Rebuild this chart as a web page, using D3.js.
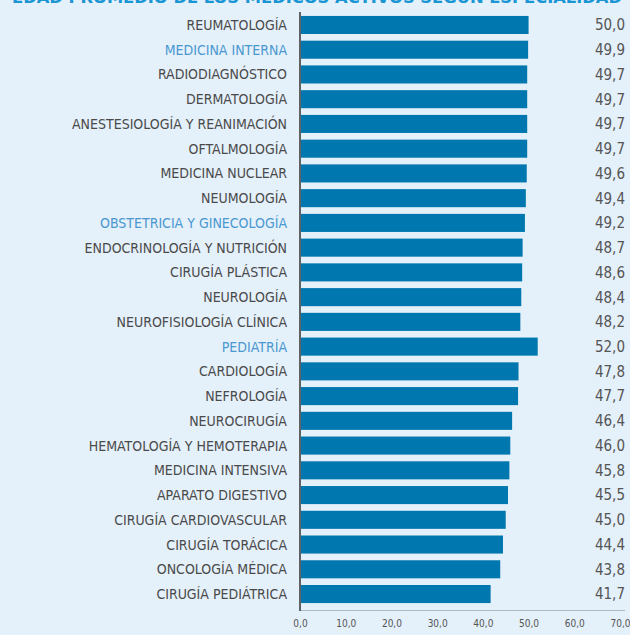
<!DOCTYPE html>
<html>
<head>
<meta charset="utf-8">
<script src="https://cdn.jsdelivr.net/npm/d3@7"></script>
<style>
  html, body { margin: 0; padding: 0; background: #e4f0fa; }
  svg { display: block; }
</style>
</head>
<body>
<svg id="chart" width="630" height="635"></svg>
<script>
// Average age of active physicians by specialty
const especialidades = [
  "REUMATOLOGÍA", "MEDICINA INTERNA", "RADIODIAGNÓSTICO", "DERMATOLOGÍA",
  "ANESTESIOLOGÍA Y REANIMACIÓN", "OFTALMOLOGÍA", "MEDICINA NUCLEAR", "NEUMOLOGÍA",
  "OBSTETRICIA Y GINECOLOGÍA", "ENDOCRINOLOGÍA Y NUTRICIÓN", "CIRUGÍA PLÁSTICA", "NEUROLOGÍA",
  "NEUROFISIOLOGÍA CLÍNICA", "PEDIATRÍA", "CARDIOLOGÍA", "NEFROLOGÍA",
  "NEUROCIRUGÍA", "HEMATOLOGÍA Y HEMOTERAPIA", "MEDICINA INTENSIVA", "APARATO DIGESTIVO",
  "CIRUGÍA CARDIOVASCULAR", "CIRUGÍA TORÁCICA", "ONCOLOGÍA MÉDICA", "CIRUGÍA PEDIÁTRICA"
];
const edadMedia = [
  50.0, 49.9, 49.7, 49.7,
  49.7, 49.7, 49.6, 49.4,
  49.2, 48.7, 48.6, 48.4,
  48.2, 52.0, 47.8, 47.7,
  46.4, 46.0, 45.8, 45.5,
  45.0, 44.4, 43.8, 41.7
];
// Specialties shown with highlighted labels
const destacadas = ["MEDICINA INTERNA", "OBSTETRICIA Y GINECOLOGÍA", "PEDIATRÍA"];
const ticksX = [0, 10, 20, 30, 40, 50, 60, 70];
const titulo = "EDAD PROMEDIO DE LOS MÉDICOS ACTIVOS SEGÚN ESPECIALIDAD";

const data = especialidades.map((e, i) => ({ nombre: e, valor: edadMedia[i] }));
const fmt = v => d3.format(".1f")(v).replace(".", ",");

const svg = d3.select("#chart");
const font = "'DejaVu Sans Condensed', 'DejaVu Sans', sans-serif";

const x = d3.scaleLinear().domain([0, 70]).range([300, 620]);
const y = d3.scaleBand()
  .domain(especialidades)
  .range([12.6, 606.4])
  .paddingInner(0.27)
  .paddingOuter(0.135);

// Title (runs off the top edge)
svg.append("text")
  .attr("x", 12).attr("y", 2.5)
  .attr("textLength", 610).attr("lengthAdjust", "spacingAndGlyphs")
  .attr("font-family", font).attr("font-weight", "bold")
  .attr("font-size", 16).attr("fill", "#1a96d4")
  .text(titulo);

// Bars
svg.append("g").selectAll("rect")
  .data(data).join("rect")
  .attr("x", x(0) + 1)
  .attr("y", d => y(d.nombre))
  .attr("width", d => x(d.valor) - x(0) - 1)
  .attr("height", y.bandwidth())
  .attr("fill", "#0077ae");

// Category labels
svg.append("g").selectAll("text")
  .data(data).join("text")
  .attr("x", 287)
  .attr("y", d => y(d.nombre) + y.bandwidth() / 2)
  .attr("dy", "0.36em")
  .attr("text-anchor", "end")
  .attr("font-family", font).attr("font-size", 14)
  .attr("fill", d => destacadas.includes(d.nombre) ? "#4a98d0" : "#4a4a4a")
  .text(d => d.nombre);

// Value labels
svg.append("g").selectAll("text")
  .data(data).join("text")
  .attr("x", 625)
  .attr("y", d => y(d.nombre) + y.bandwidth() / 2)
  .attr("dy", "0.36em")
  .attr("text-anchor", "end")
  .attr("font-family", font).attr("font-size", 15)
  .attr("fill", "#555")
  .text(d => fmt(d.valor));

// Bottom axis
const axisG = svg.append("g").attr("transform", "translate(0,610.5)")
  .call(d3.axisBottom(x).tickValues(ticksX).tickFormat(fmt).tickSize(0).tickPadding(9));
axisG.select(".domain").remove();
axisG.append("line")
  .attr("x1", x(0)).attr("x2", 625)
  .attr("stroke", "#a9b8c4").attr("stroke-width", 1);
axisG.selectAll(".tick text")
  .attr("font-family", font).attr("font-size", 10).attr("fill", "#555");

// Vertical baseline
svg.append("line")
  .attr("x1", x(0)).attr("x2", x(0))
  .attr("y1", 12).attr("y2", 611)
  .attr("stroke", "#333").attr("stroke-width", 1.5);
</script>
</body>
</html>
